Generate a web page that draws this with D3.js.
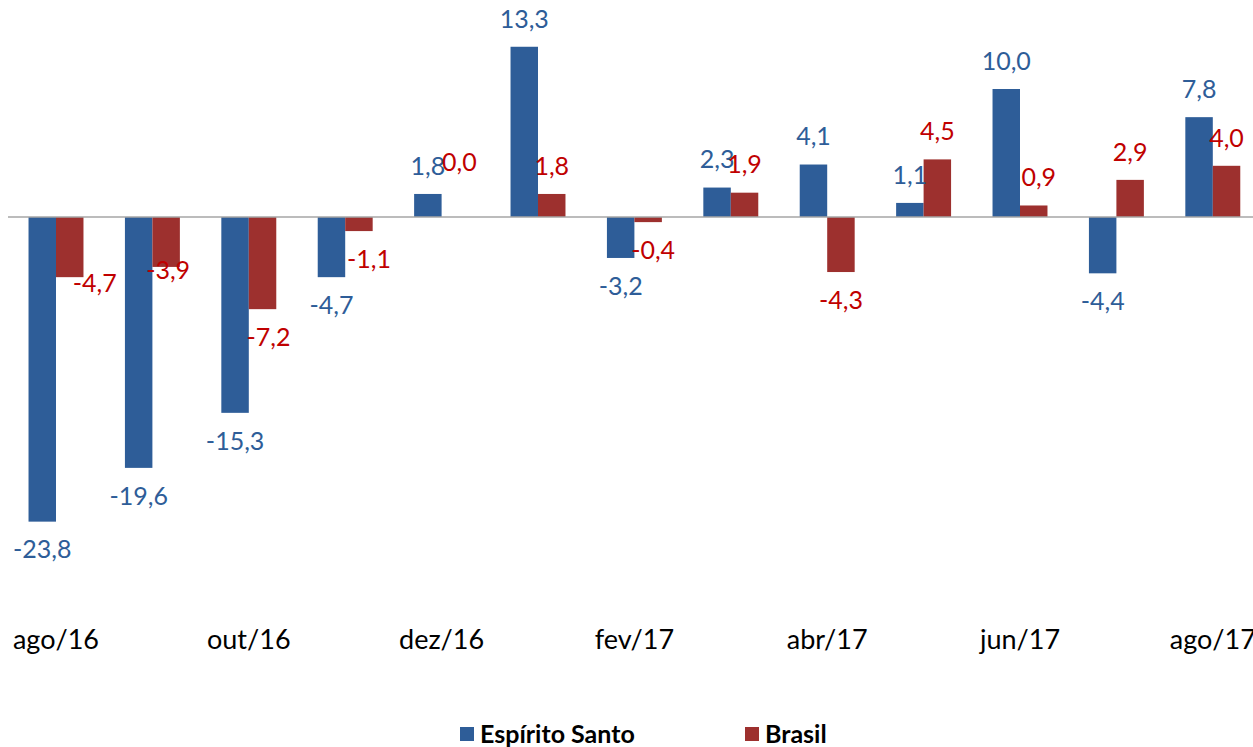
<!DOCTYPE html>
<meta charset="utf-8">
<style>
body { margin: 0; background: #fff; }
svg { display: block; font-family: Lato, "Open Sans", "Liberation Sans", sans-serif; }
.lbl { font-size: 25px; text-anchor: middle; }
.tick { font-size: 27px; text-anchor: middle; fill: #000; }
.legend text { font-size: 25px; font-weight: bold; fill: #000; }
</style>
<svg width="1253" height="747"></svg>
<script src="https://d3js.org/d3.v7.min.js"></script>
<script>
var months = ["ago/16", "set/16", "out/16", "nov/16", "dez/16", "jan/17", "fev/17",
              "mar/17", "abr/17", "mai/17", "jun/17", "jul/17", "ago/17"];
var seriesNames = ["Espírito Santo", "Brasil"];
var espiritoSanto = [-23.8, -19.6, -15.3, -4.7, 1.8, 13.3, -3.2, 2.3, 4.1, 1.1, 10.0, -4.4, 7.8];
var brasil = [-4.7, -3.9, -7.2, -1.1, 0.0, 1.8, -0.4, 1.9, -4.3, 4.5, 0.9, 2.9, 4.0];
var shownTicks = ["ago/16", "out/16", "dez/16", "fev/17", "abr/17", "jun/17", "ago/17"];

var barColor = { "Espírito Santo": "#2E5D98", "Brasil": "#9D302E" };
var textColor = { "Espírito Santo": "#2E5D98", "Brasil": "#C00000" };

// a few Brasil labels were moved by hand in the original
var nudge = { "Brasil|ago/16": [25, -22], "Brasil|set/16": [2, -25], "Brasil|dez/16": [4, -27],
              "Brasil|out/16": [6, 0], "Brasil|nov/16": [10, 0], "Brasil|fev/17": [5, 0], "Brasil|jun/17": [5, 0] };

var svg = d3.select("svg");

var x0 = d3.scaleBand().domain(months).range([7.8, 1261]).paddingInner(0.43).paddingOuter(0.215);
var x1 = d3.scaleBand().domain(seriesNames).range([0, x0.bandwidth()]);
var y = d3.scaleLinear().domain([-30, 15]).range([601, 25]);

var fmt = function(v) { return d3.format(".1f")(v).replace(".", ",").replace("\u2212", "-"); };

var rows = months.map(function(m, i) {
  return { month: m, values: [
    { name: seriesNames[0], v: espiritoSanto[i] },
    { name: seriesNames[1], v: brasil[i] }
  ] };
});

var groups = svg.append("g").selectAll("g")
  .data(rows).enter().append("g")
  .attr("transform", function(d) { return "translate(" + x0(d.month) + ",0)"; });

groups.selectAll("rect")
  .data(function(d) { return d.values; })
  .enter().append("rect")
  .attr("x", function(d) { return x1(d.name); })
  .attr("width", x1.bandwidth())
  .attr("y", function(d) { return y(Math.max(0, d.v)); })
  .attr("height", function(d) { return Math.abs(y(d.v) - y(0)); })
  .attr("fill", function(d) { return barColor[d.name]; });

// zero line
svg.append("line")
  .attr("x1", 8).attr("x2", 1253)
  .attr("y1", y(0)).attr("y2", y(0))
  .attr("stroke", "#A6A6A6").attr("stroke-width", 1.5);

groups.each(function(row) {
  d3.select(this).selectAll("text")
    .data(row.values)
    .enter().append("text")
    .attr("class", "lbl")
    .attr("fill", function(d) { return textColor[d.name]; })
    .attr("x", function(d) {
      var n = nudge[d.name + "|" + row.month];
      return x1(d.name) + x1.bandwidth() / 2 + (n ? n[0] : 0);
    })
    .attr("y", function(d) {
      var n = nudge[d.name + "|" + row.month];
      var base = d.v >= 0 ? y(d.v) - 28 : y(d.v) + 28;
      return base + (n ? n[1] : 0);
    })
    .attr("dy", "0.35em")
    .text(function(d) { return fmt(d.v); });
});

// category labels
svg.append("g").selectAll("text")
  .data(shownTicks).enter().append("text")
  .attr("class", "tick")
  .attr("x", function(d) { return x0(d) + x0.bandwidth() / 2; })
  .attr("y", 640)
  .attr("dy", "0.35em")
  .text(function(d) { return d; });

// legend
var legend = svg.append("g").attr("class", "legend");
var legendX = [460, 745];
seriesNames.forEach(function(name, i) {
  legend.append("rect")
    .attr("x", legendX[i]).attr("y", 727)
    .attr("width", 14).attr("height", 14)
    .attr("fill", barColor[name]);
  legend.append("text")
    .attr("x", legendX[i] + 20).attr("y", 734)
    .attr("dy", "0.35em")
    .text(name);
});
</script>
